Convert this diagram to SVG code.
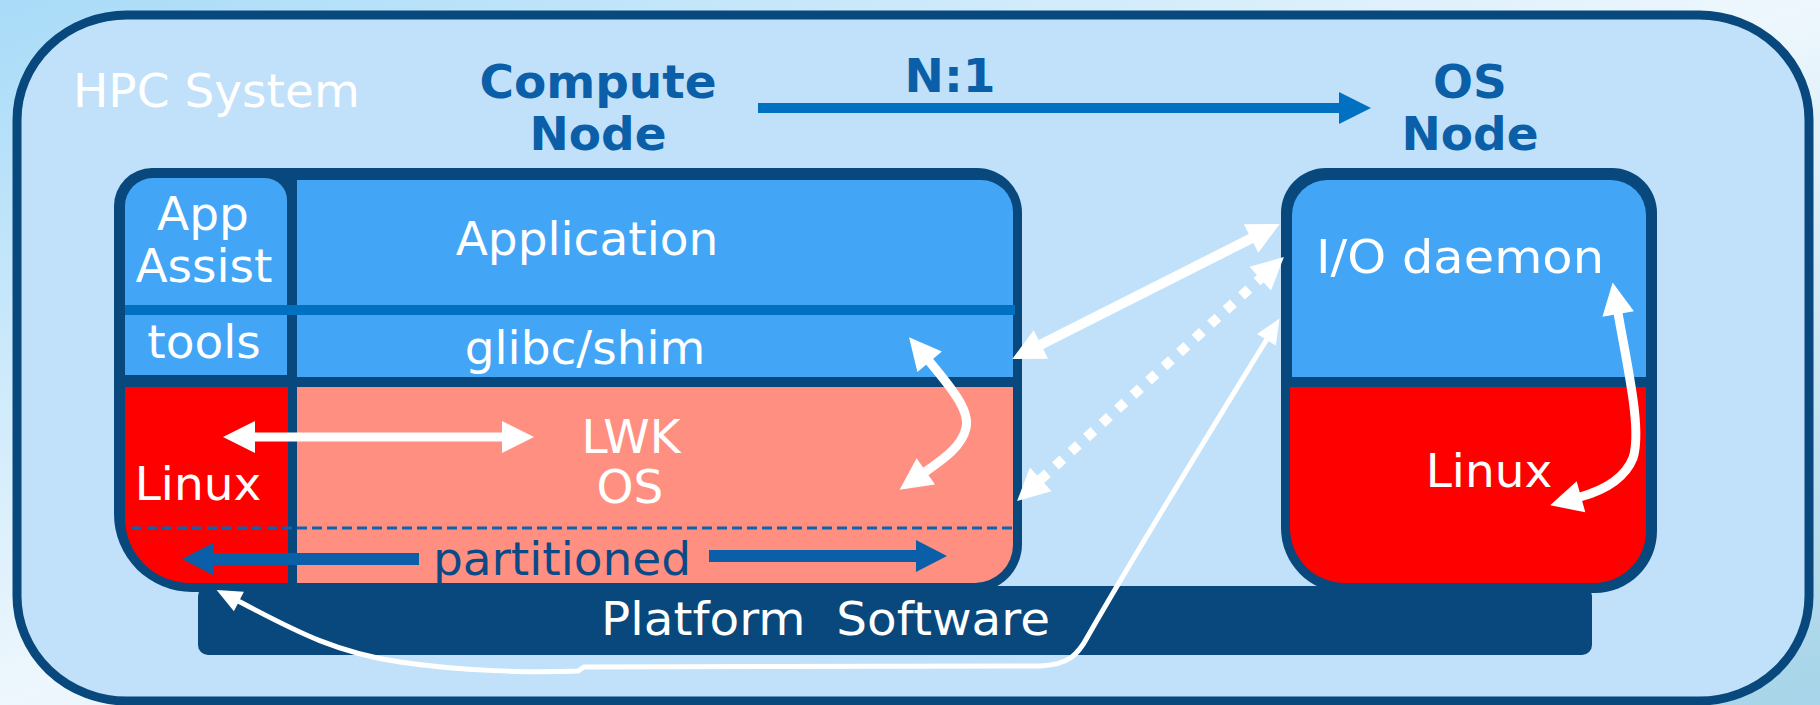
<svg xmlns="http://www.w3.org/2000/svg" width="1820" height="705" viewBox="0 0 1820 705">
<defs>
<linearGradient id="bg" x1="0" y1="0" x2="1" y2="1">
<stop offset="0" stop-color="#a8dbf8"/>
<stop offset="0.5" stop-color="#eef7fd"/>
<stop offset="1" stop-color="#a6d4e8"/>
</linearGradient>
<marker id="wh" markerUnits="userSpaceOnUse" markerWidth="40" markerHeight="40" refX="1" refY="16" orient="auto-start-reverse" overflow="visible">
<path d="M0,0 L32,16 L0,32 Z" fill="#ffffff"/>
</marker>
<marker id="whs" markerUnits="userSpaceOnUse" markerWidth="30" markerHeight="30" refX="1" refY="11" orient="auto-start-reverse" overflow="visible">
<path d="M0,0 L25,11 L0,22 Z" fill="#ffffff"/>
</marker>
<marker id="bl" markerUnits="userSpaceOnUse" markerWidth="40" markerHeight="40" refX="1" refY="16" orient="auto-start-reverse" overflow="visible">
<path d="M0,0 L32,16 L0,32 Z" fill="#0070c0"/>
</marker>
<marker id="pb" markerUnits="userSpaceOnUse" markerWidth="40" markerHeight="40" refX="1" refY="16" orient="auto-start-reverse" overflow="visible">
<path d="M0,0 L31,16 L0,32 Z" fill="#0a5fa8"/>
</marker>
</defs>
<style>
text{font-family:"DejaVu Sans","Verdana",sans-serif;}
.w{fill:#ffffff;font-size:47px;}
.t{fill:#0a5fa8;font-size:47px;font-weight:bold;text-anchor:middle;}
.m{text-anchor:middle;}
.frame{fill:#08487c;}
.blue{fill:#42a5f5;}
.red{fill:#ff0000;}
.pink{fill:#ff8f80;}
.wl{fill:none;stroke:#ffffff;}
</style>
<rect x="0" y="0" width="1820" height="705" fill="url(#bg)"/>
<g id="hpc-system">
<rect x="17" y="15" width="1792" height="686" rx="110" ry="105" fill="#c0e1f9" stroke="#08487c" stroke-width="9"/>
<text class="w" x="73" y="107" font-size="48">HPC System</text>
</g>
<g id="titles">
<text class="t" x="598" y="98">Compute</text>
<text class="t" x="598" y="150">Node</text>
<text class="t" x="1470" y="98">OS</text>
<text class="t" x="1470" y="150">Node</text>
</g>
<g id="platform-software">
<rect x="198" y="586" width="1394" height="69" rx="10" class="frame"/>
<text class="w" x="601" y="635" font-size="48" xml:space="preserve" style="white-space:pre" textLength="449" lengthAdjust="spacingAndGlyphs">Platform  Software</text>
</g>
<g id="compute-node">
<path class="frame" d="M152 168 H977 A45 45 0 0 1 1022 213 V544 A48 48 0 0 1 974 592 H192 A78 78 0 0 1 114 514 V206 A38 38 0 0 1 152 168 Z"/>
<path class="blue" d="M125 375 V206 A28 28 0 0 1 153 178 H265 A22 22 0 0 1 287 200 V375 Z"/>
<path class="blue" d="M297 377 V180 H981 A32 32 0 0 1 1013 212 V377 Z"/>
<rect x="125" y="305" width="890" height="10" fill="#0070c0"/>
<path class="red" d="M125 387 H288 V583 H190 A65 65 0 0 1 125 518 Z"/>
<path class="pink" d="M297 387 H1013 V545 A38 38 0 0 1 975 583 H297 Z"/>
<line x1="132" y1="528" x2="1015" y2="528" stroke="#0a64b0" stroke-width="3" stroke-dasharray="10 5"/>
<text class="w m" x="203" y="230">App</text>
<text class="w m" x="204" y="282">Assist</text>
<text class="w m" x="204" y="358">tools</text>
<text class="w m" x="198" y="500">Linux</text>
<text class="w m" x="587" y="255">Application</text>
<text class="w m" x="585" y="364">glibc/shim</text>
<text class="w m" x="631" y="453">LWK</text>
<text class="w m" x="630" y="503">OS</text>
<text class="m" x="562" y="575" font-size="47" fill="#0b4a86">partitioned</text>
</g>
<g id="os-node">
<path class="frame" d="M1326 168 H1612 A45 45 0 0 1 1657 213 V531 A62 62 0 0 1 1595 593 H1346 A65 65 0 0 1 1281 528 V213 A45 45 0 0 1 1326 168 Z"/>
<path class="blue" d="M1292 377 V215 A35 35 0 0 1 1327 180 H1611 A35 35 0 0 1 1646 215 V377 Z"/>
<path class="red" d="M1290 387 H1646 V531 A52 52 0 0 1 1594 583 H1345 A55 55 0 0 1 1290 528 Z"/>
<text class="w" x="1316" y="273" font-size="49" textLength="288" lengthAdjust="spacingAndGlyphs">I/O daemon</text>
<text class="w m" x="1489" y="487">Linux</text>
</g>
<g id="connectors">
<line x1="758" y1="108" x2="1340" y2="108" stroke="#0070c0" stroke-width="10" marker-end="url(#bl)"/>
<text class="t" x="950" y="92">N:1</text>
<line x1="419" y1="559" x2="212" y2="559" stroke="#0a5fa8" stroke-width="12" marker-end="url(#pb)"/>
<line x1="709" y1="556" x2="917" y2="556" stroke="#0a5fa8" stroke-width="12" marker-end="url(#pb)"/>
<line class="wl" x1="254" y1="437" x2="503" y2="437" stroke-width="9" marker-start="url(#wh)" marker-end="url(#wh)"/>
<path class="wl" d="M929 361 C955 392 970 412 966 428 C962 446 945 458 925 472" stroke-width="9" marker-start="url(#wh)" marker-end="url(#wh)"/>
<line class="wl" x1="1040" y1="345" x2="1252" y2="238" stroke-width="10" marker-start="url(#wh)" marker-end="url(#wh)"/>
<line class="wl" x1="1040" y1="480" x2="1261" y2="278" stroke-width="10" stroke-dasharray="10 11" marker-start="url(#wh)" marker-end="url(#wh)"/>
<path class="wl" d="M238 601 C285 625 330 652 400 662 C460 671 530 673 578 671 L584 667 L1040 666 C1068 665 1078 655 1088 636 C1140 545 1205 440 1267 339" stroke-width="5" marker-start="url(#whs)" marker-end="url(#whs)"/>
<path class="wl" d="M1618 313 C1628 370 1642 430 1633 458 C1625 478 1605 490 1580 497" stroke-width="9" marker-start="url(#wh)" marker-end="url(#wh)"/>
</g>
</svg>
